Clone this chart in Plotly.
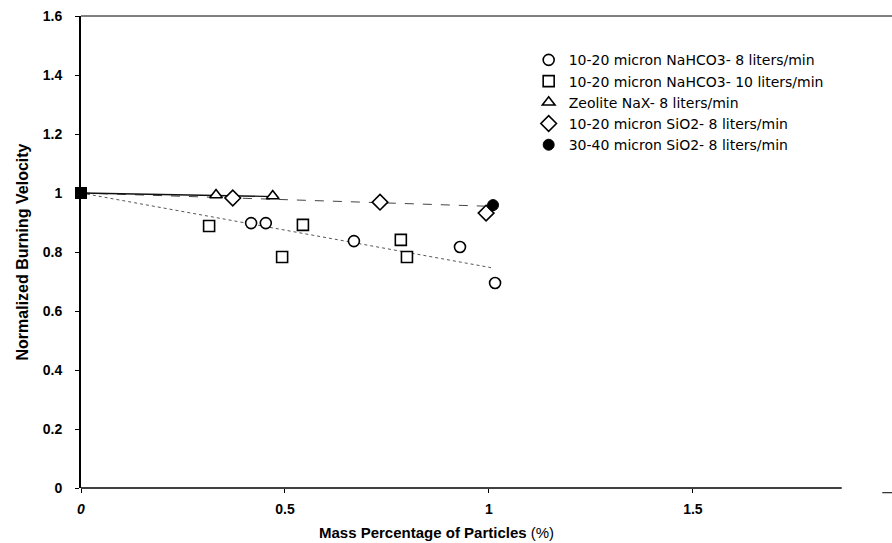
import plotly.graph_objects as go

# ---- data ----
nahco3_8_x = [0.417, 0.453, 0.669, 0.929, 1.015]
nahco3_8_y = [0.898, 0.898, 0.837, 0.817, 0.695]

nahco3_10_x = [0.314, 0.493, 0.544, 0.784, 0.799]
nahco3_10_y = [0.888, 0.783, 0.892, 0.841, 0.783]

zeolite_x = [0.331, 0.470]
zeolite_y = [0.993, 0.990]

sio2_1020_x = [0.372, 0.733, 0.993]
sio2_1020_y = [0.983, 0.969, 0.932]

sio2_3040_x = [1.010]
sio2_3040_y = [0.959]

origin_x = [0.0]
origin_y = [1.0]

# trend lines (end points)
trend_nahco3_x = [0.0, 1.005]
trend_nahco3_y = [1.0, 0.747]
trend_sio2_x = [0.0, 1.0]
trend_sio2_y = [1.0, 0.955]
trend_zeo_x = [0.0, 0.47]
trend_zeo_y = [1.0, 0.988]

x_tickvals = [0, 0.5, 1, 1.5]
x_ticktext = ["<i>0</i>", "0.5", "1", "1.5"]
y_tickvals = [0, 0.2, 0.4, 0.6, 0.8, 1, 1.2, 1.4, 1.6]

FONT = "Liberation Sans, Arial, sans-serif"
LEGFONT = "DejaVu Sans, Liberation Sans, sans-serif"

fig = go.Figure()

fig.add_trace(go.Scatter(x=trend_nahco3_x, y=trend_nahco3_y, mode="lines",
                         line=dict(color="#555555", width=1, dash="dot"),
                         showlegend=False, hoverinfo="skip"))
fig.add_trace(go.Scatter(x=trend_sio2_x, y=trend_sio2_y, mode="lines",
                         line=dict(color="#444444", width=1, dash="dash"),
                         showlegend=False, hoverinfo="skip"))
fig.add_trace(go.Scatter(x=trend_zeo_x, y=trend_zeo_y, mode="lines",
                         line=dict(color="#111111", width=1.3),
                         showlegend=False, hoverinfo="skip"))

mk = dict(color="white", line=dict(color="black", width=1.6))

fig.add_trace(go.Scatter(x=nahco3_8_x, y=nahco3_8_y, mode="markers",
                         name="10-20 micron NaHCO3- 8 liters/min",
                         marker=dict(symbol="circle", size=11, **mk), cliponaxis=False))
fig.add_trace(go.Scatter(x=nahco3_10_x, y=nahco3_10_y, mode="markers",
                         name="10-20 micron NaHCO3- 10 liters/min",
                         marker=dict(symbol="square", size=11, **mk), cliponaxis=False))
fig.add_trace(go.Scatter(x=zeolite_x, y=zeolite_y, mode="markers",
                         name="Zeolite NaX- 8 liters/min",
                         marker=dict(symbol="triangle-up", size=11, **mk), cliponaxis=False))
fig.add_trace(go.Scatter(x=sio2_1020_x, y=sio2_1020_y, mode="markers",
                         name="10-20 micron SiO2- 8 liters/min",
                         marker=dict(symbol="diamond", size=12, **mk), cliponaxis=False))
fig.add_trace(go.Scatter(x=sio2_3040_x, y=sio2_3040_y, mode="markers",
                         name="30-40 micron SiO2- 8 liters/min",
                         marker=dict(symbol="circle", size=11, color="black",
                                     line=dict(color="black", width=1)), cliponaxis=False))
fig.add_trace(go.Scatter(x=origin_x, y=origin_y, mode="markers",
                         marker=dict(symbol="square", size=12, color="black"),
                         showlegend=False, cliponaxis=False))

fig.update_layout(
    width=892, height=543,
    margin=dict(l=81, r=0, t=16, b=55),
    paper_bgcolor="white", plot_bgcolor="white",
    font=dict(family=FONT, color="black", size=12),
    showlegend=True,
    legend=dict(x=0.552, y=0.94, xanchor="left", yanchor="top",
                bgcolor="rgba(0,0,0,0)", font=dict(size=14, family=LEGFONT),
                itemwidth=30, tracegroupgap=0),
    xaxis=dict(range=[0, 1.988], tickvals=x_tickvals, ticktext=x_ticktext,
               showgrid=False, zeroline=False, showline=False,
               ticks="outside", ticklen=4, tickcolor="black",
               tickfont=dict(size=14, family=FONT, weight="bold"),
               ticklabelstandoff=4),
    yaxis=dict(range=[0, 1.6], tickvals=y_tickvals,
               showgrid=False, zeroline=False, showline=True, linecolor="black",
               linewidth=2, ticks="outside", ticklen=4, tickcolor="black",
               tickfont=dict(size=14, family=FONT, weight="bold"),
               ticklabelstandoff=10,
               title=dict(text="<b>Normalized Burning Velocity</b>",
                          font=dict(size=16, family=FONT), standoff=10)),
    shapes=[
        dict(type="line", xref="paper", yref="paper", x0=0, x1=1, y0=1, y1=1,
             line=dict(color="black", width=1)),
        dict(type="line", xref="paper", yref="paper", x0=0, x1=0.938, y0=0, y1=0,
             line=dict(color="black", width=1.5)),
        dict(type="line", xref="paper", yref="paper", x0=0.988, x1=1.0, y0=-0.01, y1=-0.01,
             line=dict(color="black", width=1)),
    ],
    annotations=[
        dict(text="<b>Mass Percentage of Particles</b> (%)", xref="paper", yref="paper",
             x=0.438, y=-0.072, xanchor="center", yanchor="top", showarrow=False,
             font=dict(size=15, family=FONT)),
    ],
)

fig.write_html("out.html")
